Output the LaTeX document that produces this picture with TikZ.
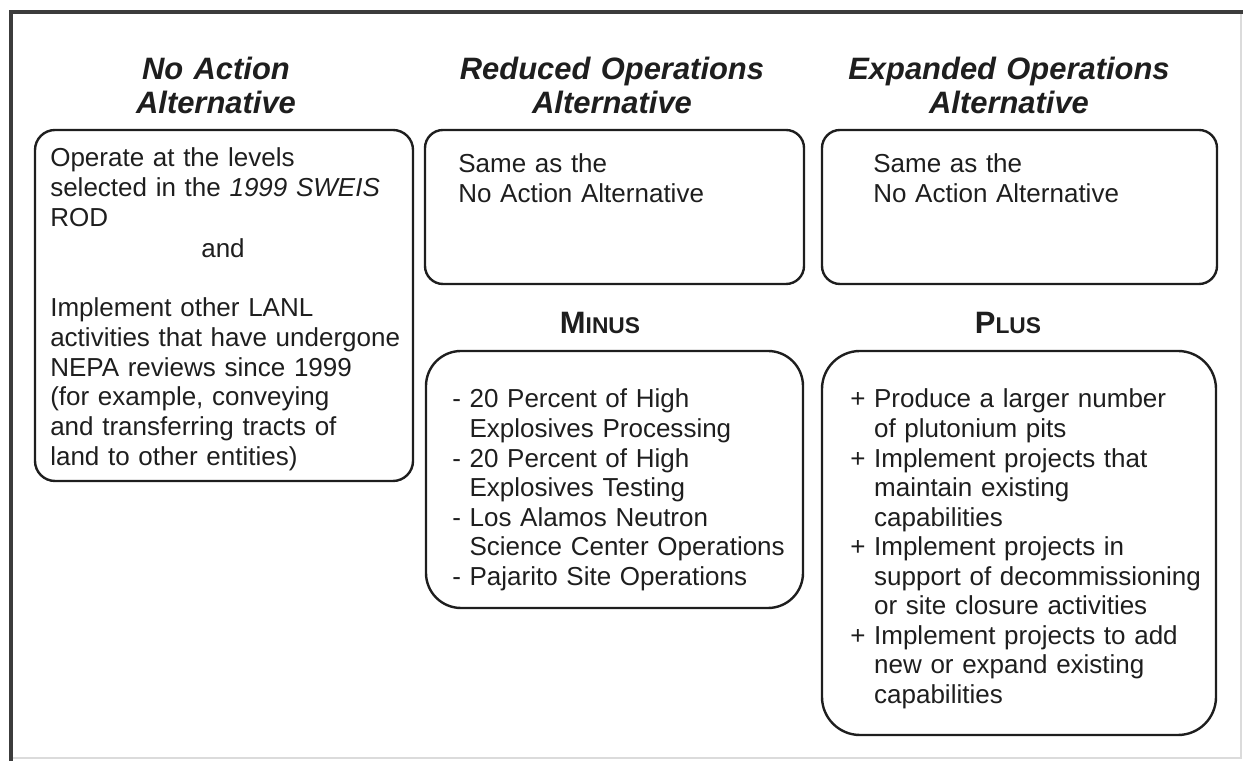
\documentclass[tikz,border=0pt]{standalone}
\usepackage{fontspec}
\setmainfont{Liberation Sans}
\usepackage{tikz}
\usetikzlibrary{positioning}
\definecolor{EISInk}{RGB}{30,30,30}
\definecolor{EISFrame}{RGB}{60,60,60}

% fake small caps for the MINUS / PLUS headings
\newcommand{\capword}[2]{{\fontsize{22}{24}\selectfont #1}{\fontsize{16.2}{18}\selectfont #2}}
% hanging indent after a leading - or +
\newcommand{\gapminus}{\hphantom{-\ }}
\newcommand{\gapplus}{\hphantom{+\ }}

\begin{document}
\begin{tikzpicture}[
          altbox/.style={draw=EISInk, line width=1.7pt, inner sep=0pt},
          head/.style={font=\fontsize{22}{23.8}\selectfont\bfseries\itshape,
                       text width=10cm, align=center, anchor=base, inner sep=0pt, EISInk},
          body/.style={font=\fontsize{18.5}{21.1}\selectfont,
                       text width=10cm, align=left, anchor=base west, inner sep=0pt, EISInk}
        ]
        \useasboundingbox (0,0) rectangle (31.075,19.025);

        % page frame
        \draw[black!14, line width=0.8pt] (0.275,0.075) rectangle (31.025,18.725);
        \draw[EISFrame, line width=2.2pt] (0.275,0) -- (0.275,18.725) -- (31.075,18.725);

        % column headings
        \node[head] (noact) at (5.4, 17.025) {No Action\\Alternative};
        \node[head] (redop) at (15.3, 17.025) {Reduced Operations\\Alternative};
        \node[head] (expop) at (25.225, 17.025) {Expanded Operations\\Alternative};

        % boxes
        \node[altbox, rounded corners=0.5cm, minimum width=9.45cm, minimum height=8.775cm]
              (nabox) at (5.6, 11.3875) {};
        \node[altbox, rounded corners=0.45cm, minimum width=9.475cm, minimum height=3.85cm]
              (rdbox) at (15.3625, 13.85) {};
        \node[altbox, rounded corners=0.45cm, minimum width=9.875cm, minimum height=3.85cm]
              (exbox) at (25.4875, 13.85) {};
        \node[altbox, rounded corners=0.875cm, minimum width=9.425cm, minimum height=6.425cm]
              (mnbox) at (15.3625, 7.0375) {};
        \node[altbox, rounded corners=0.95cm, minimum width=9.85cm, minimum height=9.6cm]
              (plbox) at (25.475, 5.45) {};

        % no action text
        \node[body] (natop) at (1.25, 14.85)
              {Operate at the levels\\selected in the \textit{1999 SWEIS}\\ROD};
        \node[font=\fontsize{18.5}{21.1}\selectfont, anchor=base, inner sep=0pt, EISInk]
              (naand) at (5.575, 12.575) {and};
        \node[body] (nabot) at (1.25, 11.1)
              {Implement other LANL\\activities that have undergone\\NEPA reviews since 1999\\
               (for example, conveying\\and transferring tracts of\\land to other entities)};

        \node[body] (rdtxt) at (11.45, 14.7) {Same as the\\No Action Alternative};
        \node[body] (extxt) at (21.825, 14.7) {Same as the\\No Action Alternative};

        % minus / plus
        \node[font=\bfseries, anchor=base, inner sep=0pt, EISInk] (minus) at (15.0, 10.675)
              {\capword{M}{INUS}};
        \node[font=\bfseries, anchor=base, inner sep=0pt, EISInk] (plus) at (25.2, 10.675)
              {\capword{P}{LUS}};

        \node[body, font=\fontsize{18.5}{21}\selectfont] (mntxt) at (11.3, 8.825)
              {- 20 Percent of High\\\gapminus Explosives Processing\\
               - 20 Percent of High\\\gapminus Explosives Testing\\
               - Los Alamos Neutron\\\gapminus Science Center Operations\\
               - Pajarito Site Operations};
        \node[body, font=\fontsize{18.5}{21}\selectfont] (pltxt) at (21.25, 8.825)
              {+ Produce a larger number\\\gapplus of plutonium pits\\
               + Implement projects that\\\gapplus maintain existing\\\gapplus capabilities\\
               + Implement projects in\\\gapplus support of decommissioning\\
               \gapplus or site closure activities\\
               + Implement projects to add\\\gapplus new or expand existing\\\gapplus capabilities};
      \end{tikzpicture}
\end{document}
